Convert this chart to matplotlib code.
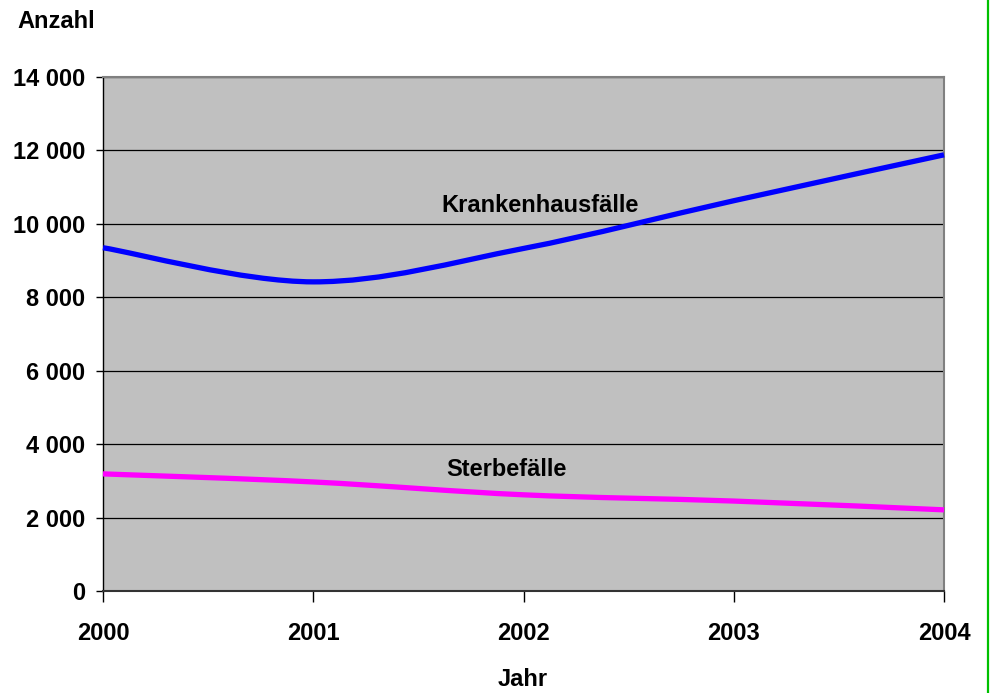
import matplotlib
matplotlib.use("Agg")
import matplotlib.pyplot as plt
from matplotlib.path import Path
from matplotlib.patches import PathPatch
from matplotlib.lines import Line2D
import numpy as np

years = [2000, 2001, 2002, 2003, 2004]
krankenhaus = [9350, 8420, 9330, 10630, 11880]
sterbe = [3190, 2970, 2620, 2450, 2210]
y_ticks = [0, 2000, 4000, 6000, 8000, 10000, 12000, 14000]
y_labels = ["0", "2 000", "4 000", "6 000", "8 000", "10 000", "12 000", "14 000"]

plt.rcParams["font.family"] = ["Liberation Sans", "DejaVu Sans"]
plt.rcParams["font.weight"] = "bold"

fig = plt.figure(figsize=(9.91, 6.93), dpi=100)
ax = fig.add_axes([103/991, 1-591/693, (944-103)/991, (591-77)/693])
ax.set_facecolor("#C0C0C0")


def smooth_path(xs, ys):
    xs = np.asarray(xs, float)
    ys = np.asarray(ys, float)
    n = len(xs)
    verts = [(xs[0], ys[0])]
    codes = [Path.MOVETO]
    for i in range(n - 1):
        p0 = (xs[max(i-1, 0)], ys[max(i-1, 0)])
        p1 = (xs[i], ys[i])
        p2 = (xs[i+1], ys[i+1])
        p3 = (xs[min(i+2, n-1)], ys[min(i+2, n-1)])
        c1 = (p1[0] + (p2[0]-p0[0])/6, p1[1] + (p2[1]-p0[1])/6)
        c2 = (p2[0] - (p3[0]-p1[0])/6, p2[1] - (p3[1]-p1[1])/6)
        verts += [c1, c2, p2]
        codes += [Path.CURVE4]*3
    return Path(verts, codes)


for data, col in [(krankenhaus, "#0000FF"), (sterbe, "#FF00FF")]:
    patch = PathPatch(smooth_path(years, data), facecolor="none", edgecolor=col,
                      lw=3.8, capstyle="butt", zorder=3, clip_on=False)
    ax.add_patch(patch)

ax.set_xlim(2000, 2004)
ax.set_ylim(0, 14000)
ax.set_yticks(y_ticks)
ax.set_yticklabels(y_labels)
ax.set_xticks(years)
ax.set_xticklabels([str(y) for y in years])
ax.yaxis.grid(True, color="black", lw=0.9)
ax.set_axisbelow(True)

for s in ["top", "right"]:
    ax.spines[s].set_color("#808080")
    ax.spines[s].set_linewidth(1.5)
ax.spines["left"].set_color("black")
ax.spines["left"].set_linewidth(1.0)
ax.spines["bottom"].set_color("#333333")
ax.spines["bottom"].set_linewidth(1.5)

ax.tick_params(axis="y", length=5, width=1, pad=8, labelsize=17)
ax.tick_params(axis="x", length=8, width=1, pad=14, labelsize=17)

ax.text(2002.08, 10490, "Krankenhausfälle", fontsize=17, fontweight="bold", ha="center", va="center")
ax.text(2001.92, 3310, "Sterbefälle", fontsize=17, fontweight="bold", ha="center", va="center")

fig.text(56/991, 1-22/693, "Anzahl", fontsize=17, fontweight="bold", ha="center", va="center")
fig.text(523/991, 1-680/693, "Jahr", fontsize=17, fontweight="bold", ha="center", va="center")

fig.add_artist(Line2D([988/991, 988/991], [0, 1], color="#00C000", lw=1.6))

fig.savefig("out.png", dpi=100, facecolor="white")
